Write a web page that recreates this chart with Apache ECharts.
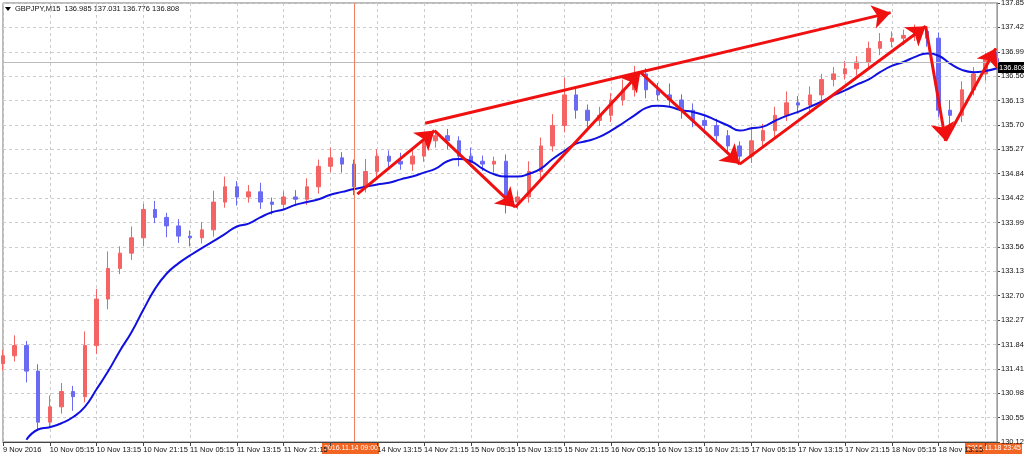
<!DOCTYPE html>
<html>
<head>
<meta charset="utf-8">
<script src="https://cdn.jsdelivr.net/npm/echarts@6/dist/echarts.min.js"></script>
<style>
html, body { margin: 0; padding: 0; background: #fff; }
#chart { width: 1024px; height: 459px; }
</style>
</head>
<body>
<div id="chart"></div>
<script>
var dayLabels = ['9 Nov 2016', '10 Nov 05:15', '10 Nov 13:15', '10 Nov 21:15', '11 Nov 05:15', '11 Nov 13:15',
  '11 Nov 21:15', '14 Nov 05:15', '14 Nov 13:15', '14 Nov 21:15', '15 Nov 05:15', '15 Nov 13:15', '15 Nov 21:15',
  '16 Nov 05:15', '16 Nov 13:15', '16 Nov 21:15', '17 Nov 05:15', '17 Nov 13:15', '17 Nov 21:15', '18 Nov 05:15',
  '18 Nov 13:15', '']
var firstOpen = 131.50
var closes = [131.64, 131.82, 131.37, 130.47, 130.74, 131.01, 130.92, 131.82, 132.64, 133.18,
  133.45, 133.72, 134.22, 134.08, 133.93, 133.75, 133.72, 133.86, 134.35, 134.62,
  134.44, 134.53, 134.35, 134.31, 134.44, 134.40, 134.62, 134.98, 135.13, 135.02,
  134.62, 134.89, 135.16, 135.07, 135.02, 135.16, 135.43, 135.52, 135.43, 135.16,
  135.07, 135.02, 135.07, 134.35, 134.44, 134.89, 135.34, 135.70, 136.24, 135.97,
  135.79, 135.88, 136.15, 136.33, 136.61, 136.33, 136.24, 136.15, 135.97, 135.79,
  135.70, 135.52, 135.34, 135.16, 135.43, 135.61, 135.88, 136.10, 136.06, 136.24,
  136.51, 136.61, 136.70, 136.82, 137.06, 137.18, 137.24, 137.29, 137.36, 137.24,
  135.97, 135.88, 136.33, 136.61, 136.88, 136.81]
var wickHi = [0.10, 0.18, 0.08, 0.12, 0.20, 0.15, 0.10, 0.25, 0.18, 0.30,
  0.12, 0.20, 0.10, 0.15, 0.08, 0.12, 0.10, 0.14, 0.20, 0.18,
  0.10, 0.12, 0.16, 0.08, 0.10, 0.12, 0.15, 0.12, 0.18, 0.10,
  0.08, 0.22, 0.12, 0.10, 0.15, 0.12, 0.14, 0.10, 0.12, 0.08,
  0.15, 0.10, 0.08, 0.12, 0.10, 0.18, 0.15, 0.20, 0.30, 0.12,
  0.10, 0.15, 0.12, 0.18, 0.14, 0.10, 0.12, 0.20, 0.10, 0.12,
  0.08, 0.12, 0.10, 0.08, 0.25, 0.12, 0.15, 0.20, 0.12, 0.15,
  0.10, 0.12, 0.14, 0.10, 0.12, 0.15, 0.12, 0.10, 0.12, 0.08,
  0.10, 0.18, 0.15, 0.12, 0.10, 0.12]
var wickLo = [0.12, 0.10, 0.20, 0.15, 0.10, 0.12, 0.25, 0.10, 0.15, 0.18,
  0.10, 0.12, 0.15, 0.10, 0.20, 0.12, 0.15, 0.10, 0.12, 0.10,
  0.15, 0.10, 0.12, 0.18, 0.10, 0.12, 0.10, 0.12, 0.10, 0.15,
  0.15, 0.10, 0.12, 0.15, 0.10, 0.12, 0.10, 0.12, 0.15, 0.18,
  0.10, 0.12, 0.15, 0.20, 0.12, 0.10, 0.12, 0.10, 0.12, 0.15,
  0.12, 0.10, 0.12, 0.10, 0.12, 0.15, 0.10, 0.12, 0.15, 0.12,
  0.15, 0.12, 0.10, 0.15, 0.12, 0.10, 0.12, 0.10, 0.15, 0.12,
  0.10, 0.12, 0.10, 0.12, 0.10, 0.12, 0.10, 0.12, 0.10, 0.15,
  0.12, 0.20, 0.12, 0.10, 0.12, 0.10]
var maValues = [null, null, 130.16, 130.34, 130.38, 130.45, 130.56, 130.74, 131.05, 131.37, 131.73, 132.06,
  132.45, 132.82, 133.09, 133.27, 133.41, 133.54, 133.66, 133.79, 133.92, 133.97,
  134.08, 134.17, 134.22, 134.30, 134.35, 134.40, 134.48, 134.53, 134.58, 134.62,
  134.66, 134.69, 134.75, 134.80, 134.87, 134.94, 135.07, 135.11, 135.07, 134.94,
  134.84, 134.80, 134.80, 134.85, 134.94, 135.11, 135.25, 135.38, 135.43, 135.50,
  135.61, 135.74, 135.88, 136.01, 136.05, 136.03, 135.97, 135.94, 135.88, 135.79,
  135.70, 135.61, 135.65, 135.68, 135.78, 135.87, 135.94, 136.03, 136.12, 136.23,
  136.32, 136.42, 136.51, 136.64, 136.75, 136.82, 136.91, 136.97, 136.93, 136.79,
  136.68, 136.64, 136.66, 136.71]
var yTicks = ['130.120', '130.550', '130.980', '131.410', '131.840', '132.270', '132.700', '133.130', '133.560',
  '133.990', '134.420', '134.840', '135.270', '135.700', '136.130', '136.560', '136.990', '137.420', '137.850']
// hand drawn arrows: [candle index, price] -> [candle index, price]
var arrows = [
  [[30.3, 134.49], [36.9, 135.61]],
  [[36.9, 135.61], [43.8, 134.26]],
  [[43.8, 134.26], [54.5, 136.64]],
  [[54.5, 136.64], [63.0, 135.02]],
  [[63.0, 135.02], [78.9, 137.45]],
  [[78.9, 137.45], [80.6, 135.43]],
  [[80.6, 135.43], [84.9, 137.06]],
  [[36.1, 135.74], [75.9, 137.69]]
]
var lastPrice = 136.808

var categories = []
var candles = []
var prev = firstOpen
for (var i = 0; i < closes.length; i++) {
  categories.push(i % 4 == 0 ? (dayLabels[i / 4] || '') : '')
  var o = prev, c = closes[i]
  candles.push([o, c, Math.min(o, c) - wickLo[i], Math.max(o, c) + wickHi[i]])
  prev = c
}

var chart = echarts.init(document.getElementById('chart'))
var gridPos = { left: 3, right: 27, top: 3, bottom: 17, outerBoundsMode: 'none', containLabel: false }
var font = 'Liberation Sans'
chart.setOption({
  animation: false,
  grid: [Object.assign({ show: true, borderColor: '#777', borderWidth: 1 }, gridPos), Object.assign({}, gridPos)],
  xAxis: [{
    type: 'category', data: categories, gridIndex: 0, boundaryGap: false,
    axisLine: { lineStyle: { color: '#444' } },
    axisTick: { interval: 3, length: 4, lineStyle: { color: '#444' } },
    axisLabel: { interval: 3, align: 'left', margin: 4, fontSize: 7.5, color: '#111', fontFamily: font,
      showMinLabel: true, hideOverlap: false,
      formatter: function (v, idx) { return idx == 28 ? '' : v } },
    splitLine: { show: true, interval: 3, lineStyle: { color: '#ccc', type: [3, 3] } }
  }, {
    type: 'value', gridIndex: 1, min: 0, max: closes.length - 1, show: false
  }],
  yAxis: [{
    type: 'value', gridIndex: 0, position: 'right', min: 130.12, max: 137.86, interval: 0.43,
    axisLine: { show: true, lineStyle: { color: '#444' } },
    axisTick: { show: true, length: 3 },
    axisLabel: { fontSize: 7.5, color: '#111', margin: 4, fontFamily: font, showMaxLabel: true,
      formatter: function (v) { return yTicks[Math.round((v - 130.12) / 0.43)] } },
    splitLine: { lineStyle: { color: '#ccc', type: [3, 3] } }
  }, {
    type: 'value', gridIndex: 1, min: 130.12, max: 137.86, show: false
  }],
  series: [{
    type: 'candlestick', data: candles, barMaxWidth: 4,
    itemStyle: { color: '#f46464', color0: '#6a6af2', borderColor: '#f46464', borderColor0: '#6a6af2', borderWidth: 1 },
    markLine: {
      silent: true, symbol: 'none', label: { show: false },
      data: [
        { yAxis: lastPrice, lineStyle: { color: '#bbb', type: 'solid', width: 1 } },
        { xAxis: 30, lineStyle: { color: '#f08060', type: 'solid', width: 1 } },
        { xAxis: 85, lineStyle: { color: '#f08060', type: 'solid', width: 1 } }
      ]
    }
  }, {
    type: 'line', data: maValues, showSymbol: false, smooth: true,
    lineStyle: { color: '#1010e0', width: 2 }
  }, {
    type: 'lines', coordinateSystem: 'cartesian2d', xAxisIndex: 1, yAxisIndex: 1, z: 10,
    symbol: ['none', 'arrow'], symbolSize: 18,
    lineStyle: { color: '#f01010', width: 3, opacity: 1 },
    data: arrows.map(function (a) { return { coords: a } })
  }],
  graphic: [
    { type: 'polygon', shape: { points: [[5, 7], [11, 7], [8, 11]] }, style: { fill: '#000' } },
    { type: 'text', left: 15, top: 5, style: { text: 'GBPJPY,M15  136.985 137.031 136.776 136.808', fontSize: 7.5, fill: '#111', fontFamily: font } },
    { type: 'rect', shape: { x: 998, y: 62, width: 26, height: 11 }, style: { fill: '#000' } },
    { type: 'text', left: 999, top: 64, style: { text: '136.808', fontSize: 7.5, fill: '#fff', fontFamily: font } },
    { type: 'rect', shape: { x: 322, y: 443, width: 57, height: 11 }, style: { fill: '#f26522' } },
    { type: 'text', left: 324, top: 445, style: { text: '2016.11.14 09:00', fontSize: 7, fill: '#fff', fontFamily: font } },
    { type: 'rect', shape: { x: 965, y: 443, width: 57, height: 11 }, style: { fill: '#f26522' } },
    { type: 'text', left: 967, top: 445, style: { text: '2016.11.18 23:45', fontSize: 7, fill: '#fff', fontFamily: font } }
  ]
})
</script>
</body>
</html>
